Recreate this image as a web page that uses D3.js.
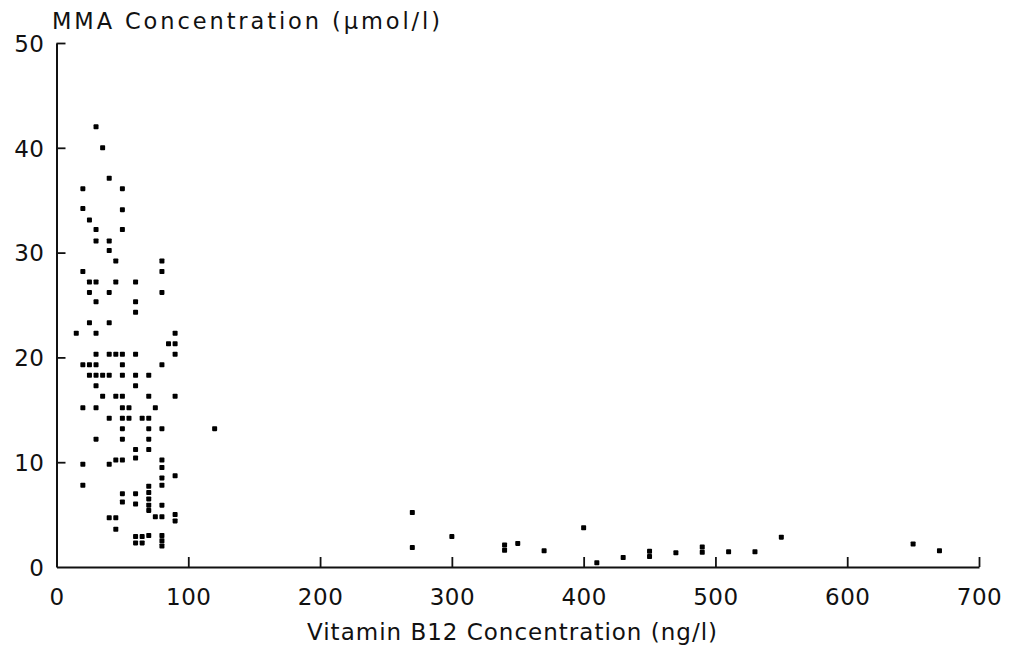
<!DOCTYPE html>
<html>
<head>
<meta charset="utf-8">
<script src="https://cdn.jsdelivr.net/npm/d3@7"></script>
<style>
  html, body { margin: 0; padding: 0; background: #fff; }
  svg { display: block; }
  text { font-family: "DejaVu Sans", sans-serif; fill: #111; }
</style>
</head>
<body>
<svg id="chart" width="1010" height="647"></svg>
<script>
// ---- data ----
const xTicks = [0, 100, 200, 300, 400, 500, 600, 700];
const yTicks = [0, 10, 20, 30, 40, 50];
const xTitle = "Vitamin B12 Concentration (ng/l)";
const yTitle = "MMA Concentration (\u00b5mol/l)";

// Vitamin B12 (ng/l)
const b12 = [
  30, 35, 40, 20, 50, 20, 50, 25, 30, 50, 30, 40, 40, 45, 80, 20, 80,
  25, 30, 45, 60, 25, 40, 80, 30, 60, 60, 25, 40, 15, 30, 90, 85, 90,
  30, 40, 45, 50, 60, 90,
  20, 25, 30, 50, 80,
  25, 30, 35, 40, 50, 60, 70,
  30, 60,
  35, 45, 50, 70, 90,
  20, 30, 50, 55, 75,
  40, 50, 55, 65, 70,
  50, 70, 80, 120,
  30, 50, 70,
  60, 70,
  20, 40, 45, 50, 60, 80, 80,
  90, 80, 80, 20, 50, 50, 60, 60, 70, 70, 70, 70, 70, 80,
  40, 45, 75, 80, 90, 90, 45, 70, 60, 60, 65, 65, 80, 80, 80,
  270, 270, 300, 340, 340, 350, 370, 400, 410, 430, 450, 450, 470,
  490, 490, 510, 530, 550, 650, 670
];
// MMA (µmol/l)
const mma = [
  42, 40, 37.1, 36.1, 36.1, 34.2, 34.1, 33.1, 32.2, 32.2, 31.1, 31.1, 30.2, 29.2, 29.2, 28.2, 28.2,
  27.2, 27.2, 27.2, 27.2, 26.2, 26.2, 26.2, 25.3, 25.3, 24.3, 23.3, 23.3, 22.3, 22.3, 22.3, 21.3, 21.3,
  20.3, 20.3, 20.3, 20.3, 20.3, 20.3,
  19.3, 19.3, 19.3, 19.3, 19.3,
  18.3, 18.3, 18.3, 18.3, 18.3, 18.3, 18.3,
  17.3, 17.3,
  16.3, 16.3, 16.3, 16.3, 16.3,
  15.2, 15.2, 15.2, 15.2, 15.2,
  14.2, 14.2, 14.2, 14.2, 14.2,
  13.2, 13.2, 13.2, 13.2,
  12.2, 12.2, 12.2,
  11.2, 11.2,
  9.8, 9.8, 10.2, 10.2, 10.4, 10.2, 9.5,
  8.7, 8.5, 7.8, 7.8, 7.0, 6.2, 7.0, 6.0, 7.7, 7.1, 6.5, 5.9, 5.4, 5.9,
  4.7, 4.7, 4.8, 4.8, 5.0, 4.4, 3.6, 3.0, 2.9, 2.3, 2.9, 2.3, 3.0, 2.5, 2.0,
  5.2, 1.85, 2.9, 2.1, 1.6, 2.25, 1.55, 3.75, 0.4, 0.9, 1.5, 1.0, 1.35,
  1.9, 1.4, 1.45, 1.45, 2.85, 2.2, 1.55
];

// ---- drawing ----
const svg = d3.select("#chart");
const x = d3.scaleLinear().domain([0, 700]).range([56.5, 979]);
const y = d3.scaleLinear().domain([0, 50]).range([567, 43]);

svg.append("rect").attr("width", 1010).attr("height", 647).attr("fill", "#fff");

const xAxis = svg.append("g")
  .attr("transform", `translate(0,${y(0)})`)
  .call(d3.axisBottom(x).tickValues(xTicks).tickFormat(d3.format("d"))
    .tickSizeInner(-10).tickSizeOuter(0).tickPadding(22));

const yAxis = svg.append("g")
  .attr("transform", `translate(${x(0)},0)`)
  .call(d3.axisLeft(y).tickValues(yTicks).tickFormat(d3.format("d"))
    .tickSizeInner(-9).tickSizeOuter(0).tickPadding(12));

[xAxis, yAxis].forEach(g => {
  g.select(".domain").attr("stroke", "#111").attr("stroke-width", 2);
  g.selectAll(".tick line").attr("stroke", "#111").attr("stroke-width", 1.8);
  g.selectAll(".tick text")
    .style("font-family", '"DejaVu Sans", sans-serif')
    .style("font-size", "23px")
    .style("letter-spacing", "0.5px")
    .attr("fill", "#222");
});
yAxis.select(".tick:first-of-type line").remove();
yAxis.selectAll(".tick text").attr("dy", "0.36em");

// axis titles
svg.append("text")
  .attr("x", 52).attr("y", 29)
  .attr("textLength", 388).attr("lengthAdjust", "spacing")
  .style("font-size", "22.5px")
  .attr("fill", "#222")
  .text(yTitle);

svg.append("text")
  .attr("x", 307).attr("y", 640)
  .attr("textLength", 410).attr("lengthAdjust", "spacing")
  .style("font-size", "23px")
  .attr("fill", "#222")
  .text(xTitle);

// points
const pts = b12.map((v, i) => ({ b: v, m: mma[i] }));
const s = 5;
svg.append("g").selectAll("rect")
  .data(pts)
  .join("rect")
  .attr("x", d => x(d.b) - s / 2)
  .attr("y", d => y(d.m) - s / 2)
  .attr("width", s)
  .attr("height", s)
  .attr("rx", 0.8)
  .attr("fill", "#000");
</script>
</body>
</html>
